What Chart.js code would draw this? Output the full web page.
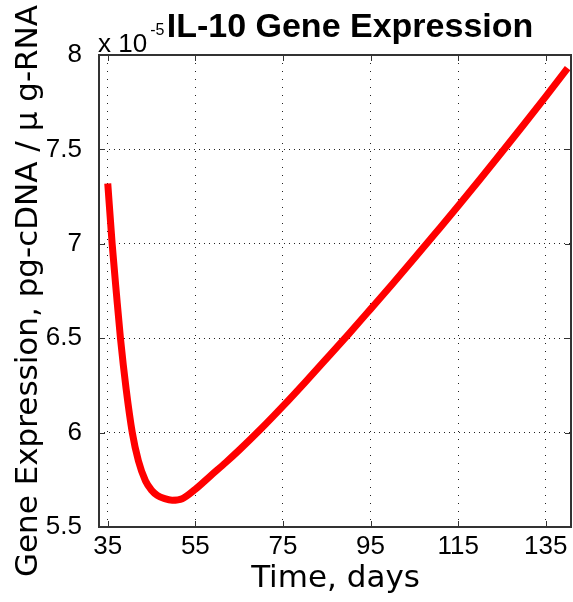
<!DOCTYPE html>
<html lang="en">
<head>
  <meta charset="UTF-8">
  <title>IL-10 Gene Expression</title>
  <script src="https://cdn.jsdelivr.net/npm/chart.js"></script>
  <style>
    body { margin: 0; background: #fff; }
  </style>
</head>
<body>

<canvas id="il10Chart" width="573" height="602"></canvas>

<script>
// time (days) and IL-10 expression, in units of 1e-5 pg-cDNA / ug-RNA
var days = [35, 36, 37, 37.9, 39.2, 40.6, 42, 43.6, 45, 46.3, 48, 49.7, 52, 55, 58.4, 62, 65, 70, 75, 80, 85, 90, 95, 100, 105, 110, 115, 120, 125, 130, 135, 140];
var il10 = [7.32, 7.0, 6.73, 6.5, 6.23, 6.0, 5.85, 5.745, 5.695, 5.668, 5.65, 5.642, 5.65, 5.70, 5.77, 5.843, 5.907, 6.02, 6.14, 6.265, 6.393, 6.522, 6.654, 6.787, 6.923, 7.061, 7.2, 7.342, 7.486, 7.632, 7.78, 7.93];
var xTicks = [35, 55, 75, 95, 115, 135];
var yTicks = [5.5, 6, 6.5, 7, 7.5, 8];
var xRange = [33, 141];

var tickFont = '"Liberation Sans Narrow", "Liberation Sans", Arial';

// box around the axes, inward tick marks, title and the "x 10^-5" multiplier
var matlabDecor = {
  id: 'matlabDecor',
  afterDraw: function (chart) {
    var ctx = chart.ctx;
    var a = chart.chartArea;
    var sx = chart.scales.x, sy = chart.scales.y;
    var l = Math.round(a.left), r = Math.round(a.right) - 1;
    var t = Math.round(a.top), b = Math.round(a.bottom);
    ctx.save();
    ctx.setLineDash([]);
    ctx.strokeStyle = '#333333';
    ctx.lineWidth = 2;
    ctx.strokeRect(l, t, r - l, b - t);

    ctx.lineWidth = 1;
    ctx.beginPath();
    xTicks.forEach(function (v) {
      var px = Math.round(sx.getPixelForValue(v)) + 0.5;
      ctx.moveTo(px, b); ctx.lineTo(px, b - 6);
      ctx.moveTo(px, t); ctx.lineTo(px, t + 6);
    });
    yTicks.forEach(function (v) {
      var py = Math.round(sy.getPixelForValue(v)) + 0.5;
      ctx.moveTo(l, py); ctx.lineTo(l + 6, py);
      ctx.moveTo(r, py); ctx.lineTo(r - 6, py);
    });
    ctx.stroke();

    ctx.fillStyle = '#000';
    ctx.textBaseline = 'alphabetic';
    ctx.textAlign = 'center';
    ctx.font = 'bold 34px "Liberation Sans"';
    ctx.fillText('IL-10 Gene Expression', 350, 37);

    ctx.textAlign = 'left';
    ctx.font = '26px ' + tickFont;
    ctx.fillText('x 10', 98, 52);
    var w = ctx.measureText('x 10').width;
    ctx.font = '16px ' + tickFont;
    ctx.fillText('-5', 98 + w + 3, 35);
    ctx.restore();
  }
};

var points = days.map(function (d, i) { return { x: d, y: il10[i] }; });

new Chart(document.getElementById('il10Chart').getContext('2d'), {
  type: 'line',
  data: {
    datasets: [{
      data: points,
      borderColor: '#ff0000',
      borderWidth: 7,
      pointRadius: 0,
      fill: false,
      cubicInterpolationMode: 'monotone'
    }]
  },
  options: {
    responsive: false,
    animation: false,
    layout: { padding: { top: 55, left: 0, right: 1, bottom: 0 } },
    plugins: {
      legend: { display: false },
      tooltip: { enabled: false },
      title: { display: false }
    },
    scales: {
      x: {
        type: 'linear',
        min: xRange[0],
        max: xRange[1],
        afterBuildTicks: function (scale) {
          scale.ticks = xTicks.map(function (v) { return { value: v }; });
        },
        afterFit: function (scale) { scale.height = 75; },
        ticks: {
          color: '#000',
          padding: 4,
          maxRotation: 0,
          font: { family: tickFont, size: 26 }
        },
        grid: { color: '#222', lineWidth: 1, drawTicks: false },
        border: { display: false, dash: [1, 7] },
        title: {
          display: true,
          text: 'Time, days',
          color: '#000',
          font: { family: 'DejaVu Sans', size: 31 },
          padding: { top: 0, bottom: 4 }
        }
      },
      y: {
        min: 5.5,
        max: 8,
        afterBuildTicks: function (scale) {
          scale.ticks = yTicks.map(function (v) { return { value: v }; });
        },
        afterFit: function (scale) { scale.width = 99; },
        ticks: {
          color: '#000',
          padding: 17,
          font: { family: tickFont, size: 26 },
          callback: function (v) { return String(v); }
        },
        grid: { color: '#222', lineWidth: 1, drawTicks: false },
        border: { display: false, dash: [1, 4] },
        title: {
          display: true,
          text: 'Gene Expression, pg-cDNA / \u03bc g-RNA',
          color: '#000',
          font: { family: 'DejaVu Sans', size: 31 },
          padding: { top: 10, bottom: 0 }
        }
      }
    }
  },
  plugins: [matlabDecor]
});
</script>

</body>
</html>
